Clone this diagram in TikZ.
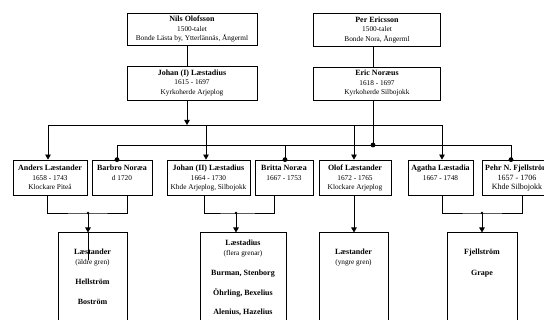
\documentclass[tikz,border=0pt]{standalone}
\usepackage{fontspec}
\setmainfont{Liberation Serif}
\usetikzlibrary{calc, positioning, arrows.meta}

\newcommand\namn[1]{{\fontsize{8}{9.5}\selectfont\bfseries #1}}
\newcommand\kort[4][t]{\parbox[c][#3][#1]{#2}{\centering #4}}

\begin{document}
\begin{tikzpicture}[x=1pt, y=-1pt,
        person/.style={draw, line width=0.8pt, inner sep=0pt, font=\fontsize{7.3}{9.5}\selectfont},
        conn/.style={line width=0.8pt},
        arr/.style={line width=0.8pt, -{Triangle[width=5.5pt,length=5pt]}}]
    \useasboundingbox (0,0) rectangle (544,320);
    \clip (0,0) rectangle (544,320);

    \node[person] (nils) at (192,29) {\kort[c]{130pt}{32pt}{\namn{Nils Olofsson}\\1500-talet\\Bonde Lästa by, Ytterlännäs, Ångerml}};
    \node[person] (johan1) at (192,83) {\kort[c]{130pt}{34pt}{\namn{Johan (I) Læstadius}\\1615 - 1697\\Kyrkoherde Arjeplog}};
    \node[person] (per) at (377,30) {\kort[c]{127pt}{33pt}{\namn{Per Ericsson}\\1500-talet\\Bonde Nora, Ångerml}};
    \node[person] (eric) at (377,83.5) {\kort[c]{127pt}{33pt}{\namn{Eric Noræus}\\1618 - 1697\\Kyrkoherde Silbojokk}};

    \node[person] (anders) at (50,177.5) {\kort{74pt}{35pt}{\vspace{5pt}\namn{Anders Læstander}\\1658 - 1743\\Klockare Piteå}};
    \node[person] (barbro) at (122,177.5) {\kort{60pt}{35pt}{\vspace{5pt}\namn{Barbro Noræa}\\d 1720}};
    \node[person] (johan2) at (208.5,177.5) {\kort{83pt}{35pt}{\vspace{5pt}\namn{Johan (II) Læstadius}\\1664 - 1730\\Khde Arjeplog, Silbojokk}};
    \node[person] (britta) at (284,177.5) {\kort{58pt}{35pt}{\vspace{5pt}\namn{Britta Noræa}\\1667 - 1753}};
    \node[person] (olof) at (355,177.5) {\kort{72pt}{35pt}{\vspace{5pt}\namn{Olof Læstander}\\1672 - 1765\\Klockare Arjeplog}};
    \node[person] (agatha) at (440.5,177.5) {\kort{65pt}{35pt}{\vspace{5pt}\namn{Agatha Læstadia}\\1667 - 1748}};
    \node[person, font=\fontsize{8}{9.5}\selectfont] (pehr) at (517,177.5) {\kort{70pt}{35pt}{\vspace{5pt}\namn{Pehr N. Fjellström}\\1657 - 1706\\Khde Silbojokk}};

    \node[person, anchor=north] (lae1) at (92.5,232.5) {\kort{69pt}{100pt}{\vspace{16.5pt}\namn{Læstander}\\(äldre gren)\\[10.5pt]\namn{Hellström}\\[10.5pt]\namn{Boström}}};
    \node[person, anchor=north] (lae2) at (243,232.5) {\kort{86pt}{100pt}{\vspace{7.5pt}\namn{Læstadius}\\(flera grenar)\\[11pt]\namn{Burman, Stenborg}\\[10pt]\namn{Öhrling, Bexelius}\\[10pt]\namn{Alenius, Hazelius}}};
    \node[person, anchor=north] (lae3) at (353.5,232.5) {\kort{69pt}{100pt}{\vspace{16.5pt}\namn{Læstander}\\(yngre gren)}};
    \node[person, anchor=north] (fjell) at (482,232.5) {\kort{70pt}{100pt}{\vspace{16.5pt}\namn{Fjellström}\\[11pt]\namn{Grape}}};

    \draw[conn] ([xshift=-5pt]nils.south) -- ([xshift=-5pt]johan1.north);
    \draw[conn] ([xshift=-4pt]per.south) -- ([xshift=-4pt]eric.north);

    \coordinate (busA) at (48,125);
    \coordinate (busB) at (442,125);
    \coordinate (busC) at (117,145);
    \coordinate (busD) at (511,145);
    \coordinate (johan1-b) at ([xshift=-5pt]johan1.south);
    \coordinate (eric-b) at ([xshift=-4pt]eric.south);

    \draw[arr] (johan1-b) -- (johan1-b |- busA);
    \draw[conn] (busA) -- (busB);
    \draw[conn] (busC) -- (busD);
    \draw[conn] (eric-b) -- (eric-b |- busC);
    \fill (eric-b |- busC) circle (2.4);

    \foreach \kid/\dx in {anders/-2, johan2/-2.5, olof/-1, agatha/1.5}{
        \coordinate (\kid-t) at ([xshift=\dx pt]\kid.north);
        \draw[arr] (\kid-t |- busA) -- (\kid-t);
    }
    \foreach \kid/\dx in {barbro/-5, britta/1, pehr/-6}{
        \coordinate (\kid-t) at ([xshift=\dx pt]\kid.north);
        \draw[conn] (\kid-t |- busC) -- (\kid-t);
        \fill (\kid-t) circle (2.4);
    }

    \coordinate (j1) at (88,213);
    \coordinate (j2) at (236,213);
    \coordinate (j3) at (482,213);
    \coordinate (j1end) at (88,260);

    \draw[conn] ([xshift=-3pt]anders.south) |- (j1) -| ([xshift=5pt]barbro.south);
    \draw[conn] ([xshift=-4.5pt]johan2.south) |- (j2) -| ([xshift=-10pt]britta.south);
    \draw[conn] ([xshift=1.5pt]agatha.south) |- (j3) -| ([xshift=5pt]pehr.south);
    \foreach \j/\tgt in {j1/lae1, j2/lae2, j3/fjell}{
        \fill (\j) circle (1.3);
        \draw[arr] (\j) -- (\j |- \tgt.north);
    }
    \draw[conn] (j1 |- lae1.north) -- (j1end);
    \draw[arr] ([xshift=-1pt]olof.south) -- ([xshift=-1pt]olof.south |- lae3.north);
\end{tikzpicture}
\end{document}
